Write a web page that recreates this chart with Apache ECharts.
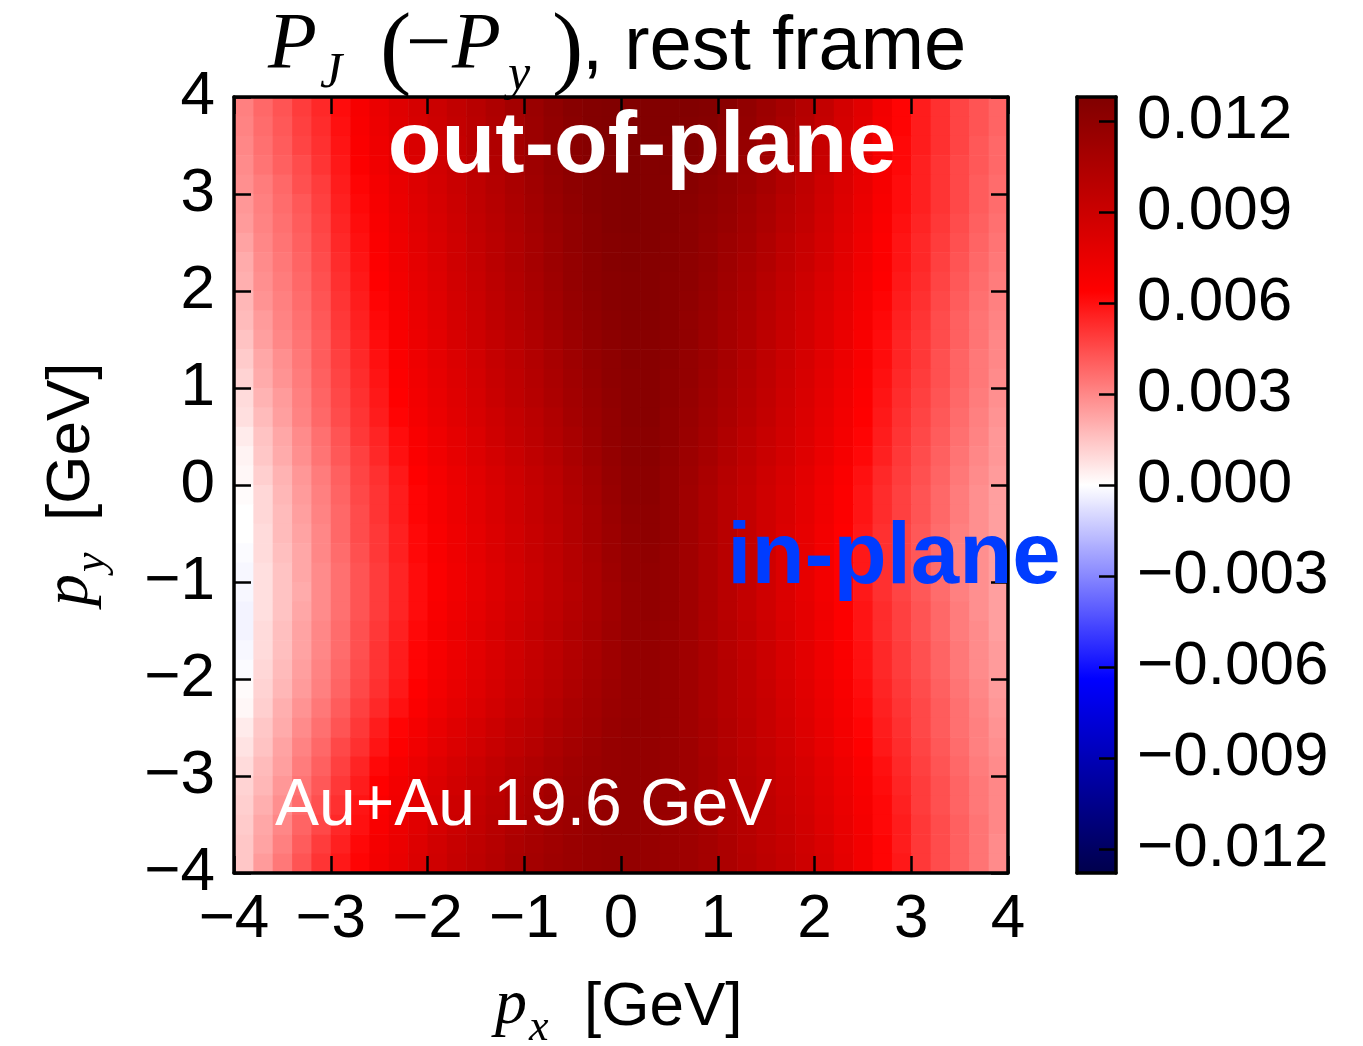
<!DOCTYPE html>
<html>
<head>
<meta charset="utf-8">
<title>P_J (-P_y), rest frame</title>
<script src="https://cdn.jsdelivr.net/npm/echarts@6/dist/echarts.min.js"></script>
<style>
  html, body { margin: 0; padding: 0; background: #fff; }
  #chart { width: 1363px; height: 1046px; }
</style>
</head>
<body>
<div id="chart"></div>
<script>
// ------------------------------ data ------------------------------

// cell centres of the 40 x 40 grid [GeV]
const pxCenters = [-3.9, -3.7, -3.5, -3.3, -3.1, -2.9, -2.7, -2.5, -2.3, -2.1,
  -1.9, -1.7, -1.5, -1.3, -1.1, -0.9, -0.7, -0.5, -0.3, -0.1,
  0.1, 0.3, 0.5, 0.7, 0.9, 1.1, 1.3, 1.5, 1.7, 1.9,
  2.1, 2.3, 2.5, 2.7, 2.9, 3.1, 3.3, 3.5, 3.7, 3.9]
// top row first
const pyCenters = [3.9, 3.7, 3.5, 3.3, 3.1, 2.9, 2.7, 2.5, 2.3, 2.1,
  1.9, 1.7, 1.5, 1.3, 1.1, 0.9, 0.7, 0.5, 0.3, 0.1,
  -0.1, -0.3, -0.5, -0.7, -0.9, -1.1, -1.3, -1.5, -1.7, -1.9,
  -2.1, -2.3, -2.5, -2.7, -2.9, -3.1, -3.3, -3.5, -3.7, -3.9]

// P_J in units of 1e-4, one row per pyCenters entry, one column per pxCenters entry
const polarization = [
  [32, 38, 43, 49, 54, 61, 68, 74, 80, 85, 90, 95, 100, 105, 110, 115, 120, 124, 126, 127, 127, 127, 127, 127, 126, 123, 119, 114, 109, 102, 94, 86, 79, 70, 63, 57, 52, 47, 43, 39],
  [31, 37, 42, 48, 53, 60, 67, 73, 79, 84, 89, 94, 99, 104, 109, 114, 119, 123, 126, 127, 127, 127, 127, 126, 125, 122, 118, 113, 107, 101, 93, 85, 78, 69, 63, 57, 52, 47, 43, 39],
  [30, 36, 41, 47, 52, 59, 66, 72, 78, 83, 88, 93, 99, 104, 109, 114, 119, 123, 125, 127, 127, 127, 126, 126, 124, 121, 117, 112, 106, 100, 92, 84, 77, 69, 62, 57, 52, 47, 42, 38],
  [29, 35, 40, 45, 51, 58, 65, 71, 77, 82, 87, 92, 98, 103, 108, 113, 118, 122, 125, 126, 127, 126, 126, 125, 123, 120, 115, 110, 104, 98, 91, 83, 76, 68, 62, 56, 51, 46, 42, 38],
  [28, 33, 38, 44, 49, 57, 63, 69, 75, 81, 86, 91, 97, 102, 107, 112, 117, 121, 124, 126, 127, 126, 125, 124, 121, 118, 114, 109, 103, 96, 89, 82, 75, 68, 61, 56, 51, 46, 41, 37],
  [26, 32, 37, 42, 48, 56, 62, 68, 74, 80, 85, 90, 96, 101, 106, 111, 116, 120, 124, 126, 127, 126, 125, 123, 120, 117, 112, 107, 101, 95, 88, 81, 74, 67, 61, 56, 51, 46, 41, 37],
  [25, 31, 36, 41, 47, 55, 61, 67, 73, 79, 84, 89, 95, 100, 105, 110, 115, 119, 123, 126, 127, 126, 125, 122, 119, 116, 111, 106, 100, 94, 87, 80, 73, 66, 60, 55, 50, 45, 40, 36],
  [23, 30, 35, 40, 46, 54, 60, 66, 72, 78, 83, 88, 94, 99, 104, 109, 114, 119, 123, 125, 126, 126, 124, 122, 118, 114, 110, 104, 98, 92, 86, 79, 72, 65, 59, 54, 49, 44, 39, 35],
  [21, 29, 34, 39, 45, 53, 59, 65, 71, 77, 82, 88, 93, 99, 104, 109, 114, 118, 122, 125, 126, 125, 124, 121, 118, 113, 108, 103, 97, 91, 85, 78, 71, 65, 59, 54, 48, 43, 38, 34],
  [20, 28, 33, 38, 44, 52, 58, 64, 70, 76, 81, 87, 92, 98, 103, 108, 113, 118, 122, 124, 125, 125, 123, 121, 117, 112, 107, 101, 95, 89, 83, 77, 70, 64, 58, 53, 47, 42, 37, 33],
  [18, 27, 32, 37, 43, 51, 57, 63, 69, 75, 80, 86, 91, 97, 102, 107, 112, 117, 121, 124, 125, 125, 123, 120, 116, 111, 106, 100, 94, 88, 82, 76, 69, 63, 57, 52, 46, 41, 36, 32],
  [17, 25, 31, 36, 42, 50, 56, 62, 68, 74, 79, 85, 90, 96, 101, 106, 111, 116, 120, 123, 125, 125, 123, 119, 115, 110, 105, 99, 93, 87, 81, 75, 68, 62, 56, 51, 45, 40, 35, 31],
  [15, 24, 30, 35, 41, 49, 55, 61, 67, 73, 78, 84, 89, 94, 99, 104, 109, 114, 119, 122, 124, 124, 122, 119, 114, 109, 104, 98, 92, 86, 80, 74, 67, 61, 55, 50, 45, 40, 35, 30],
  [13, 22, 28, 34, 41, 48, 54, 60, 66, 72, 77, 82, 87, 93, 98, 103, 108, 113, 118, 121, 124, 124, 122, 118, 114, 109, 103, 97, 91, 85, 79, 73, 67, 61, 55, 50, 44, 39, 34, 30],
  [11, 21, 27, 33, 40, 47, 53, 59, 65, 71, 76, 81, 86, 92, 97, 102, 107, 112, 117, 121, 123, 124, 121, 118, 113, 108, 102, 96, 90, 84, 78, 72, 66, 60, 54, 49, 44, 39, 34, 29],
  [9, 19, 25, 32, 39, 46, 52, 58, 64, 70, 75, 80, 85, 91, 96, 101, 106, 111, 116, 120, 123, 124, 121, 117, 112, 107, 101, 95, 89, 83, 77, 71, 65, 59, 53, 48, 43, 38, 33, 28],
  [8, 17, 24, 31, 38, 45, 51, 57, 63, 69, 74, 79, 84, 89, 94, 99, 104, 110, 115, 119, 123, 124, 120, 116, 111, 106, 100, 94, 88, 82, 76, 70, 64, 58, 52, 47, 42, 37, 32, 27],
  [5, 15, 22, 29, 36, 43, 50, 55, 61, 67, 72, 77, 82, 88, 93, 98, 103, 108, 114, 119, 122, 123, 120, 115, 110, 104, 98, 92, 87, 81, 75, 69, 63, 57, 51, 46, 41, 36, 31, 26],
  [3, 14, 21, 28, 35, 42, 48, 54, 60, 66, 71, 76, 81, 86, 91, 96, 101, 107, 113, 118, 122, 123, 119, 114, 109, 103, 97, 91, 86, 80, 74, 68, 62, 56, 50, 45, 40, 35, 30, 26],
  [2, 12, 19, 26, 33, 40, 47, 52, 58, 64, 69, 74, 79, 84, 89, 94, 99, 105, 111, 117, 121, 122, 118, 113, 107, 101, 95, 89, 84, 78, 72, 66, 60, 54, 49, 44, 39, 34, 29, 25],
  [1, 10, 18, 25, 32, 39, 46, 51, 57, 63, 68, 73, 78, 83, 88, 93, 98, 104, 110, 116, 121, 122, 118, 112, 106, 100, 94, 88, 83, 77, 71, 65, 59, 53, 48, 43, 38, 33, 28, 24],
  [0, 10, 17, 24, 31, 38, 45, 51, 57, 63, 68, 73, 78, 83, 88, 93, 98, 103, 109, 115, 120, 121, 118, 112, 106, 100, 94, 88, 83, 77, 71, 65, 59, 53, 48, 43, 38, 33, 28, 24],
  [0, 9, 17, 23, 30, 38, 45, 50, 56, 62, 67, 72, 77, 82, 87, 92, 97, 103, 109, 114, 119, 121, 118, 112, 106, 100, 94, 88, 82, 76, 70, 64, 58, 52, 47, 42, 37, 32, 28, 24],
  [-1, 9, 16, 22, 30, 37, 44, 50, 56, 62, 67, 72, 77, 82, 87, 92, 97, 102, 108, 114, 118, 120, 117, 112, 106, 100, 94, 88, 82, 76, 70, 64, 58, 52, 47, 42, 37, 32, 28, 24],
  [-2, 8, 15, 22, 29, 36, 43, 49, 55, 61, 66, 71, 76, 81, 86, 91, 96, 102, 107, 113, 118, 119, 117, 112, 106, 100, 94, 88, 82, 76, 70, 64, 58, 52, 47, 42, 37, 32, 28, 24],
  [-2, 8, 15, 21, 29, 36, 43, 49, 55, 61, 66, 71, 76, 81, 86, 91, 96, 101, 107, 112, 117, 119, 117, 112, 106, 100, 94, 88, 82, 76, 70, 64, 58, 52, 47, 42, 37, 32, 28, 24],
  [-3, 8, 15, 22, 29, 36, 43, 49, 55, 61, 67, 72, 77, 82, 87, 92, 97, 102, 107, 112, 117, 119, 117, 112, 106, 100, 94, 88, 82, 77, 71, 65, 59, 53, 48, 43, 38, 33, 28, 24],
  [-3, 9, 16, 23, 30, 37, 44, 50, 56, 62, 68, 73, 78, 83, 88, 93, 98, 103, 108, 113, 117, 118, 116, 112, 106, 101, 95, 89, 83, 77, 71, 65, 59, 53, 48, 43, 38, 33, 29, 24],
  [-2, 9, 16, 23, 30, 37, 44, 51, 57, 63, 68, 73, 78, 83, 88, 93, 98, 103, 108, 113, 117, 118, 116, 112, 107, 101, 95, 90, 84, 78, 72, 66, 60, 54, 49, 44, 39, 34, 29, 25],
  [-1, 10, 17, 24, 31, 38, 45, 51, 57, 63, 69, 74, 79, 84, 89, 94, 99, 104, 109, 113, 117, 118, 116, 112, 107, 102, 96, 90, 84, 78, 72, 66, 60, 54, 49, 44, 39, 34, 29, 25],
  [1, 11, 18, 25, 32, 39, 46, 52, 58, 64, 70, 75, 80, 85, 90, 95, 100, 105, 110, 114, 117, 118, 116, 112, 107, 102, 96, 91, 85, 79, 73, 67, 61, 55, 50, 45, 40, 35, 30, 25],
  [2, 12, 20, 27, 34, 41, 48, 54, 60, 66, 72, 77, 82, 87, 92, 97, 102, 107, 111, 115, 117, 118, 116, 112, 107, 102, 97, 92, 86, 80, 74, 68, 62, 56, 51, 46, 41, 36, 31, 26],
  [5, 14, 21, 29, 36, 43, 50, 57, 63, 69, 75, 80, 85, 90, 95, 99, 104, 108, 112, 116, 118, 118, 116, 112, 108, 103, 98, 92, 87, 81, 75, 69, 63, 57, 52, 46, 41, 36, 32, 27],
  [7, 15, 23, 31, 38, 46, 52, 59, 65, 71, 77, 82, 87, 92, 97, 101, 106, 110, 114, 117, 118, 118, 116, 113, 108, 103, 98, 93, 88, 82, 76, 70, 64, 58, 53, 47, 42, 37, 32, 28],
  [9, 17, 24, 33, 40, 48, 55, 62, 68, 74, 80, 85, 90, 95, 100, 104, 108, 112, 115, 117, 118, 118, 116, 113, 109, 104, 99, 94, 89, 84, 78, 72, 66, 60, 54, 48, 43, 38, 33, 29],
  [11, 18, 26, 35, 42, 50, 57, 64, 70, 76, 82, 87, 92, 97, 102, 106, 110, 113, 116, 118, 118, 118, 116, 113, 109, 104, 100, 95, 90, 85, 79, 73, 67, 61, 55, 49, 44, 39, 34, 30],
  [12, 20, 28, 37, 44, 52, 59, 66, 71, 78, 84, 89, 94, 99, 103, 107, 111, 114, 116, 118, 118, 118, 116, 113, 109, 105, 100, 96, 91, 86, 80, 74, 68, 62, 56, 49, 44, 39, 34, 30],
  [13, 22, 30, 39, 46, 54, 60, 67, 73, 79, 85, 90, 95, 100, 104, 108, 112, 114, 117, 118, 118, 117, 115, 113, 110, 105, 101, 96, 92, 87, 81, 75, 69, 62, 57, 50, 45, 40, 35, 30],
  [14, 23, 32, 41, 49, 56, 62, 69, 74, 81, 87, 92, 97, 101, 106, 109, 112, 115, 117, 118, 118, 117, 115, 113, 110, 106, 101, 97, 93, 88, 83, 76, 70, 63, 57, 50, 45, 40, 35, 29],
  [14, 25, 34, 43, 51, 58, 63, 70, 75, 82, 88, 93, 98, 102, 107, 110, 113, 115, 117, 118, 118, 117, 115, 113, 110, 106, 102, 98, 94, 89, 84, 77, 70, 63, 58, 50, 45, 40, 35, 29]
]
const valueUnit = 1e-4

const colorLimit = 0.0128 // colour scale runs from -colorLimit to +colorLimit
const colorbarTicks = [-0.012, -0.009, -0.006, -0.003, 0, 0.003, 0.006, 0.009, 0.012]
// matplotlib "seismic"
const seismic = ['#00004c', '#0000ff', '#ffffff', '#ff0000', '#800000']

// ------------------------------ style ------------------------------

const SANS = '"Liberation Sans", Arial, Helvetica, sans-serif'
const SERIF = '"Liberation Serif", "Times New Roman", serif'
const tickFont = 62
const frameLine = { color: '#000', width: 3.5 }
const tickLine = { color: '#000', width: 2.5 }

function minusSign (text) {
  return String(text).replace('-', '\u2212')
}

// build [px, py, value] triples for the cells
const cells = []
pyCenters.forEach((py, r) => {
  pxCenters.forEach((px, c) => {
    cells.push([px, py, polarization[r][c] * valueUnit])
  })
})
const halfCell = (pxCenters[1] - pxCenters[0]) / 2

function renderCell (params, api) {
  const x = api.value(0)
  const y = api.value(1)
  const p0 = api.coord([x - halfCell, y + halfCell])
  const p1 = api.coord([x + halfCell, y - halfCell])
  return {
    type: 'rect',
    shape: { x: p0[0], y: p0[1], width: p1[0] - p0[0] + 0.6, height: p1[1] - p0[1] + 0.6 },
    style: { fill: api.visual('color') }
  }
}

// main-plot axes: frame on all four sides, ticks pointing in
function plotAxis (position, showLabel) {
  return {
    type: 'value',
    gridIndex: 0,
    position: position,
    min: -4,
    max: 4,
    interval: 1,
    z: 5,
    axisLine: { show: true, onZero: false, lineStyle: frameLine },
    axisTick: { show: true, inside: true, length: 17, lineStyle: tickLine },
    axisLabel: {
      show: showLabel,
      fontSize: tickFont,
      fontFamily: SANS,
      color: '#000',
      margin: position === 'bottom' ? 16 : 19,
      formatter: minusSign
    },
    splitLine: { show: false }
  }
}

// colorbar frame edges
function barEdge (kind, position) {
  return {
    type: 'value',
    gridIndex: 1,
    position: position,
    min: kind === 'x' ? 0 : -colorLimit,
    max: kind === 'x' ? 1 : colorLimit,
    z: 6,
    axisLine: { show: true, onZero: false, lineStyle: frameLine },
    axisTick: { show: false },
    axisLabel: { show: false },
    splitLine: { show: false }
  }
}

const chart = echarts.init(document.getElementById('chart'), null, { renderer: 'canvas' })

const option = {
  animation: false,
  backgroundColor: '#fff',
  grid: [
    { left: 234, top: 97, width: 774, height: 776 },
    { left: 1077, top: 97, width: 39, height: 776 }
  ],
  xAxis: [
    plotAxis('bottom', true),
    plotAxis('top', false),
    barEdge('x', 'bottom'),
    barEdge('x', 'top')
  ],
  yAxis: [
    plotAxis('left', true),
    plotAxis('right', false),
    barEdge('y', 'left'),
    {
      type: 'value',
      gridIndex: 1,
      position: 'right',
      min: -colorLimit,
      max: colorLimit,
      z: 6,
      axisLine: { show: true, onZero: false, lineStyle: frameLine },
      axisTick: { show: true, inside: true, length: 17, customValues: colorbarTicks, lineStyle: tickLine },
      axisLabel: {
        show: true,
        customValues: colorbarTicks,
        fontSize: tickFont,
        fontFamily: SANS,
        color: '#000',
        margin: 21,
        formatter: function (v) { return minusSign(Number(v).toFixed(3)) }
      },
      splitLine: { show: false }
    }
  ],
  visualMap: {
    type: 'continuous',
    seriesIndex: 0,
    dimension: 2,
    min: -colorLimit,
    max: colorLimit,
    orient: 'vertical',
    left: 1077,
    top: 97,
    itemWidth: 39,
    itemHeight: 776,
    padding: 0,
    calculable: false,
    hoverLink: false,
    text: null,
    showLabel: false,
    inRange: { color: seismic }
  },
  series: [{
    type: 'custom',
    xAxisIndex: 0,
    yAxisIndex: 0,
    z: 1,
    renderItem: renderCell,
    encode: { x: 0, y: 1 },
    data: cells
  }],
  graphic: [
    // title: P_J (-P_y), rest frame
    { type: 'text', z: 100, x: 268, y: 47, style: { text: 'P', font: 'italic 80px ' + SERIF, fill: '#000', textVerticalAlign: 'middle' } },
    { type: 'text', z: 100, x: 320, y: 74, style: { text: 'J', font: 'italic 50px ' + SERIF, fill: '#000', textVerticalAlign: 'middle' } },
    { type: 'text', z: 100, x: 380, y: 52, style: { text: '(', font: '94px ' + SERIF, fill: '#000', textVerticalAlign: 'middle' } },
    { type: 'text', z: 100, x: 406, y: 47, style: { text: '\u2212', font: '80px ' + SERIF, fill: '#000', textVerticalAlign: 'middle' } },
    { type: 'text', z: 100, x: 452, y: 47, style: { text: 'P', font: 'italic 80px ' + SERIF, fill: '#000', textVerticalAlign: 'middle' } },
    { type: 'text', z: 100, x: 508, y: 76, style: { text: 'y', font: 'italic 50px ' + SERIF, fill: '#000', textVerticalAlign: 'middle' } },
    { type: 'text', z: 100, x: 552, y: 52, style: { text: ')', font: '94px ' + SERIF, fill: '#000', textVerticalAlign: 'middle' } },
    { type: 'text', z: 100, x: 582, y: 48, style: { text: ', rest frame', font: '76px ' + SANS, fill: '#000', textVerticalAlign: 'middle' } },

    // x axis title
    { type: 'text', z: 100, x: 495, y: 1006, style: { text: 'p', font: 'italic 64px ' + SERIF, fill: '#000', textVerticalAlign: 'middle' } },
    { type: 'text', z: 100, x: 529, y: 1028, style: { text: 'x', font: 'italic 44px ' + SERIF, fill: '#000', textVerticalAlign: 'middle' } },
    { type: 'text', z: 100, x: 584, y: 1008, style: { text: '[GeV]', font: '62px ' + SANS, fill: '#000', textVerticalAlign: 'middle' } },

    // y axis title, rotated
    {
      type: 'group',
      z: 100,
      x: 72,
      y: 487,
      rotation: Math.PI / 2,
      children: [
        { type: 'text', z: 100, x: -119, y: -2, style: { text: 'p', font: 'italic 64px ' + SERIF, fill: '#000', textVerticalAlign: 'middle' } },
        { type: 'text', z: 100, x: -85, y: 20, style: { text: 'y', font: 'italic 44px ' + SERIF, fill: '#000', textVerticalAlign: 'middle' } },
        { type: 'text', z: 100, x: -34, y: 0, style: { text: '[GeV]', font: '62px ' + SANS, fill: '#000', textVerticalAlign: 'middle' } }
      ]
    },

    // annotations inside the map
    { type: 'text', z: 100, x: 642, y: 148, style: { text: 'out-of-plane', font: 'bold 88px ' + SANS, fill: '#fff', textAlign: 'center', textVerticalAlign: 'middle' } },
    { type: 'text', z: 100, x: 894, y: 559, style: { text: 'in-plane', font: 'bold 87px ' + SANS, fill: '#003cff', textAlign: 'center', textVerticalAlign: 'middle' } },
    { type: 'text', z: 100, x: 275, y: 807, style: { text: 'Au+Au 19.6 GeV', font: '66px ' + SANS, fill: '#fff', textVerticalAlign: 'middle' } }
  ]
}

chart.setOption(option)
</script>
</body>
</html>
